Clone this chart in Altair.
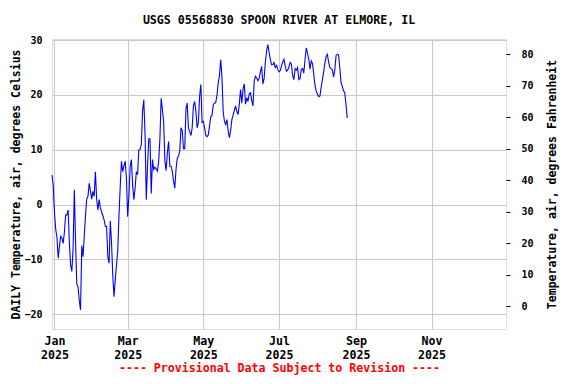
import altair as alt
import pandas as pd

title_text = "USGS 05568830 SPOON RIVER AT ELMORE, IL"
left_title = "DAILY Temperature, air, degrees Celsius"
right_title = "Temperature, air, degrees Fahrenheit"
footer_text = "---- Provisional Data Subject to Revision ----"

start_date = "2024-12-30"
temp_c = [
    5.4, 3.5, -1.5, -4.5, -6, -9.8, -7.6, -5.8, -6.1, -7.1,
    -5, -1.9, -1.9, -1, -7, -11, -12.2, -8, 2.7, -7,
    -14.5, -15, -17.5, -19.2, -7.5, -9.5, -5.8, -2, 1, 1.5,
    3.9, 2.5, 1, 2.4, 1.5, 6, 1, -1, 0.9, -0.6,
    -1.4, -2, -2.8, -4, -4, -9.5, -10.7,
    -3, -7, -13, -16.8, -13.7, -11, -8.5, -2, 3.3, 7.9,
    6, 7, 7.9, 4.8, -2.2, 1.5, 7, 8.2, 3.5, 0.9,
    3, 6, 5.5, 10, 10, 11, 17, 19.1, 13, 0.9,
    7, 12, 12, 2, 8.2, 6.4, 6.8, 6.5, 6.1, 7.9,
    12, 19.4, 17.3, 15.2, 8, 6.2, 9.4, 11.5, 7, 7,
    6, 4.2, 3, 6.5, 8.5, 8.8, 9.8, 14, 13.5, 10.2,
    10.2, 17.5, 18.5, 14, 13.3, 12.6, 14, 18, 18.8, 17,
    14, 15, 19.7, 21.9, 15, 15.2, 14, 12.6, 12.4, 12.7,
    14.3, 16, 16.3, 18.2, 18.5, 18.6, 20, 22.2, 23.5, 26.4,
    23.4, 17, 15.2, 14.6, 15.5, 13.5, 12.2, 13.5, 15.5,
    16.3, 17.2, 18, 17, 16.4, 18.3, 21, 18.5, 21, 22,
    18.3, 19.5, 18.8, 20.2, 20.4, 19, 18, 22.5, 23.4, 23.1,
    22.6, 23, 24.2, 25.2, 22, 23, 26, 28, 29.2, 27.8,
    26.5, 25.5, 25.5, 25.9, 25, 25.4, 24.7, 24.2, 24.4, 25.3,
    26, 26.5, 25.3, 24.3, 24.5, 25.1, 25.9,
    25.6, 23.5, 22.8, 24.8, 24.5, 25, 22.8, 23, 24.7, 24.8,
    24, 26.5, 28.6, 27.6, 26.5, 24.7, 26.2, 25.7, 23.8, 21.8,
    20.7, 20.1, 19.7, 19.8, 21.4, 22.8, 24.2, 25.8, 27, 27.4,
    26, 25, 24.8, 24.6, 23.3, 24.5, 27.2, 27.4, 27.3, 25,
    22.3, 21.6, 20.8, 20.4, 18.3, 15.8,
]
c_ticks = [-20, -10, 0, 10, 20, 30]
f_ticks = [0, 10, 20, 30, 40, 50, 60, 70, 80]
month_ticks = [(2025, 1), (2025, 3), (2025, 5), (2025, 7), (2025, 9), (2025, 11)]

dates = pd.date_range(start_date, periods=len(temp_c), freq="D")
df = pd.DataFrame({"date": dates, "temp_c": temp_c})
df["temp_f"] = df["temp_c"] * 1.8 + 32

FONT = "DejaVu Sans Mono"
FS = 11.6
YFS = 10

x_scale = alt.Scale(domain=[alt.DateTime(year=2024, month=12, date=30),
                            alt.DateTime(year=2025, month=12, date=31)])
x_axis = alt.Axis(
    values=[alt.DateTime(year=y, month=m, date=1) for y, m in month_ticks],
    labelExpr="[timeFormat(datum.value, '%b'), timeFormat(datum.value, '%Y')]",
    grid=True, gridColor="#c8c8c8", ticks=False, domain=False,
    labelFont=FONT, labelFontSize=FS, labelFontWeight="bold", labelColor="black",
    labelPadding=6, labelLineHeight=14,
    title=footer_text, titleColor="#ff0000", titleFont=FONT, titleFontSize=FS,
    titleFontWeight="bold", titlePadding=2,
)

line = alt.Chart(df).mark_line(color="#0000ff", strokeWidth=1.1).encode(
    x=alt.X("date:T", scale=x_scale, axis=x_axis),
    y=alt.Y("temp_c:Q",
            scale=alt.Scale(domain=[-22.7, 30.2], nice=False, zero=False),
            axis=alt.Axis(values=c_ticks, grid=True, gridColor="#c8c8c8", ticks=False,
                          domain=False, labelFont=FONT, labelFontSize=YFS,
                          labelFontWeight="bold", labelColor="black", labelPadding=10,
                          title=left_title, titleFont=FONT, titleFontSize=11.5,
                          titleFontWeight="bold", titlePadding=2)),
)

ghost = alt.Chart(df).mark_line(opacity=0).encode(
    x=alt.X("date:T", scale=x_scale),
    y=alt.Y("temp_f:Q",
            scale=alt.Scale(domain=[-7.3, 84.9], nice=False, zero=False),
            axis=alt.Axis(orient="right", values=f_ticks, grid=False, ticks=True,
                          tickSize=4, tickColor="black", domain=False,
                          labelFont=FONT, labelFontSize=YFS, labelFontWeight="bold",
                          labelColor="black", labelPadding=11,
                          title=right_title, titleFont=FONT, titleFontSize=11.5,
                          titleFontWeight="bold", titleAngle=270, titlePadding=24)),
)

chart = alt.layer(line, ghost).resolve_scale(y="independent").properties(
    width=454,
    height=290,
    title=alt.TitleParams(title_text, font=FONT, fontSize=FS, fontWeight="bold",
                          color="black", anchor="middle", offset=8),
    autosize=alt.AutoSizeParams(type="none"),
    padding={"left": 44, "top": 31, "right": 62, "bottom": 47},
).configure_view(stroke="black", strokeWidth=1.5).configure(background="white")

chart.save("out.html", embed_options={"renderer": "svg", "actions": False})
